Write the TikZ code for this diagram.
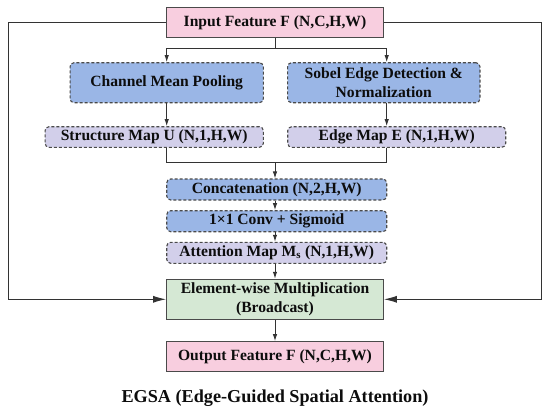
\documentclass[tikz,border=0pt]{standalone}
\usepackage{fontspec}
\setmainfont{Liberation Serif}
\usetikzlibrary{arrows.meta}
\definecolor{pinkf}{HTML}{F8CEDF}
\definecolor{bluef}{HTML}{9AB6E6}
\definecolor{purpf}{HTML}{D2CFEA}
\definecolor{greenf}{HTML}{D5E8D4}
\definecolor{edgec}{HTML}{4A4A4A}
\definecolor{linec}{HTML}{333333}
\tikzset{
  base/.style={inner sep=0pt, align=center, text=black!95,
    font=\fontsize{15.6}{18.3}\selectfont\bfseries, line width=1.1pt},
  solidbox/.style={base, draw=edgec},
  dashbox/.style={base, draw=edgec, rounded corners=4pt, dash pattern=on 3pt off 2pt},
  conn/.style={draw=linec, line width=1pt},
  arr/.style={conn, -{Latex[length=7pt,width=4.5pt]}},
  bigarr/.style={conn, -{Latex[length=13pt,width=7pt]}},
}
\begin{document}
\begin{tikzpicture}[x=1pt,y=-1pt]
\useasboundingbox[fill=white] (0,0) rectangle (550,413);
% helper coordinates
\coordinate (lx) at (166.7,0);
\coordinate (rx) at (386.7,0);
\coordinate (cx) at (275,0);
\coordinate (b) at (275,48.3);
\coordinate (m) at (275,162.3);

\node[solidbox, fill=pinkf, minimum width=216.7pt, minimum height=30pt] (in) at (275,22.3) {Input Feature F (N,C,H,W)};
\node[dashbox, fill=bluef, minimum width=193.3pt, minimum height=40pt] (cmp) at (166.7,82.7) {Channel Mean Pooling};
\node[dashbox, fill=bluef, minimum width=192.3pt, minimum height=40pt] (sob) at (383.8,82.7) {Sobel Edge Detection \&\\Normalization};
\node[dashbox, fill=purpf, minimum width=218.3pt, minimum height=20.6pt] (st) at (154.2,137) {Structure Map U (N,1,H,W)};
\node[dashbox, fill=purpf, minimum width=218pt, minimum height=20.6pt] (ed) at (396.7,137) {Edge Map E (N,1,H,W)};
\node[dashbox, fill=bluef, minimum width=220pt, minimum height=21pt] (cat) at (276.7,189.5) {Concatenation (N,2,H,W)};
\node[dashbox, fill=bluef, minimum width=220pt, minimum height=21pt] (conv) at (276.7,221.2) {1×1 Conv + Sigmoid};
\node[dashbox, fill=purpf, minimum width=220pt, minimum height=21pt] (att) at (276.7,252.8) {Attention Map M\textsubscript{s} (N,1,H,W)};
\node[solidbox, fill=greenf, minimum width=216.7pt, minimum height=40pt] (mul) at (275,299.3) {Element-wise Multiplication\\(Broadcast)};
\node[solidbox, fill=pinkf, minimum width=216.7pt, minimum height=30pt] (out) at (275,356.7) {Output Feature F (N,C,H,W)};
\node[base, font=\fontsize{18.2}{20}\selectfont\bfseries] (title) at (275,398) {EGSA (Edge-Guided Spatial Attention)};

\coordinate (L) at (8.3,299.3);
\coordinate (R) at (541.7,299.3);

% connectors
\draw[conn] (in.south) -- (b);
\draw[arr] (b) -| (cmp.north -| lx);
\draw[arr] (b) -| (sob.north -| rx);
\draw[arr] (cmp.south -| lx) -- (st.north -| lx);
\draw[arr] (sob.south -| rx) -- (ed.north -| rx);
\draw[conn] (st.south -| lx) |- (m);
\draw[conn] (ed.south -| rx) |- (m);
\draw[arr] (m) -- (cat.north -| cx);
\draw[arr] (cat.south -| cx) -- (conv.north -| cx);
\draw[arr] (conv.south -| cx) -- (att.north -| cx);
\draw[arr] (att.south -| cx) -- (mul.north -| cx);
\draw[arr] (mul.south) -- (out.north);
\draw[bigarr] (in.west) -| (L) -- (mul.west);
\draw[bigarr] (in.east) -| (R) -- (mul.east);
\end{tikzpicture}
\end{document}
